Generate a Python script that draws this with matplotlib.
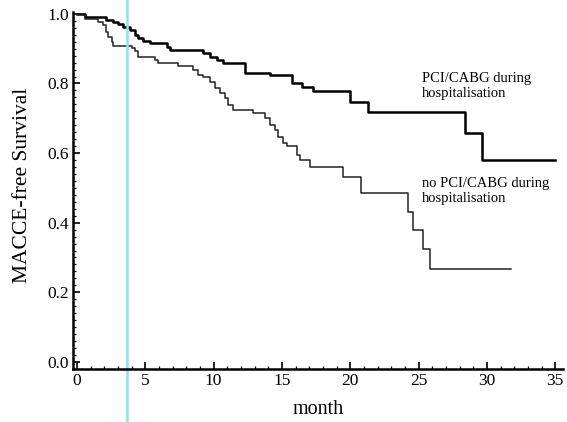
import numpy as np
import matplotlib
matplotlib.use("Agg")
import matplotlib.pyplot as plt
from matplotlib.ticker import MultipleLocator

plt.rcParams['font.family'] = ['Liberation Serif', 'DejaVu Serif']

# Kaplan-Meier steps (month, survival after the event)
pci_months = [0, 0.61, 2.14, 2.66, 3.02, 3.39, 3.90, 4.27, 4.48, 4.85, 5.36, 6.61, 6.82,
              9.24, 9.75, 10.26, 10.70, 12.31, 14.14, 15.75, 16.48, 17.29, 19.99, 21.31,
              28.41, 29.65, 35.0]
pci_surv = [1.0, 0.990, 0.983, 0.976, 0.970, 0.963, 0.954, 0.940, 0.930, 0.922, 0.916, 0.906, 0.897,
            0.887, 0.877, 0.868, 0.858, 0.831, 0.825, 0.801, 0.791, 0.777, 0.748, 0.719,
            0.658, 0.580, 0.580]

nopci_months = [0, 0.61, 1.56, 1.92, 2.14, 2.29, 2.58, 2.66, 4.05, 4.27, 4.48, 5.73, 5.95,
                7.41, 8.52, 8.89, 9.25, 9.75, 10.1, 10.48, 10.85, 11.07, 11.43, 12.90, 13.78,
                14.14, 14.51, 14.73, 15.09, 15.38, 16.12, 16.34, 17.07, 19.48, 20.80, 24.24,
                24.61, 25.34, 25.85, 31.8]
nopci_surv = [1.0, 0.986, 0.978, 0.968, 0.949, 0.935, 0.920, 0.909, 0.901, 0.892, 0.877, 0.868, 0.858,
              0.849, 0.839, 0.825, 0.820, 0.805, 0.787, 0.772, 0.758, 0.739, 0.724, 0.715, 0.700,
              0.681, 0.667, 0.647, 0.628, 0.619, 0.595, 0.580, 0.561, 0.530, 0.486, 0.431,
              0.379, 0.325, 0.267, 0.267]

pci_label = "PCI/CABG during\nhospitalisation"
nopci_label = "no PCI/CABG during\nhospitalisation"
marker_month = 3.69

fig = plt.figure(figsize=(5.67, 4.22), dpi=100)
ax = fig.add_axes([0.129, 0.126, 0.864, 0.846])

ax.step(pci_months, pci_surv, where='post', color='black', lw=1.8)
ax.step(nopci_months, nopci_surv, where='post', color='#222222', lw=1.1)

ax.text(25.26, 0.792, pci_label, fontsize=10.5, va='center', ha='left')
ax.text(25.26, 0.49, nopci_label, fontsize=10.5, va='center', ha='left')

# stray cyan line in the scan
ax.axvline(marker_month, ymin=-0.2, ymax=1.1, color='#86e4f0', lw=1.8, clip_on=False)

ax.set_xlim(-0.27, 35.57)
ax.set_ylim(-0.02, 1.006)
ax.xaxis.set_major_locator(MultipleLocator(5))
ax.xaxis.set_minor_locator(MultipleLocator(1))
ax.yaxis.set_major_locator(MultipleLocator(0.2))
ax.yaxis.set_minor_locator(MultipleLocator(0.02))
ax.yaxis.set_major_formatter(matplotlib.ticker.FormatStrFormatter('%.1f'))

for s in ['top', 'right']:
    ax.spines[s].set_visible(False)
for s in ['left', 'bottom']:
    ax.spines[s].set_linewidth(1.8)

ax.tick_params(which='major', direction='in', length=5, width=1.2, labelsize=12.5, pad=3)
ax.tick_params(which='minor', direction='in', length=2.5, width=0.9)

ax.set_xlabel("month", fontsize=14.5, labelpad=8)
ax.set_ylabel("MACCE-free Survival", fontsize=15.5)
ax.yaxis.set_label_coords(-0.084, 0.515)

fig.savefig("out.png", dpi=100)
